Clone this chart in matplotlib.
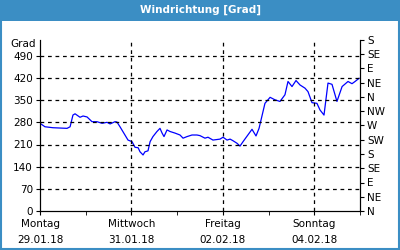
import matplotlib.pyplot as plt
from matplotlib.patches import Rectangle

# Data: hours since 29.01.18 00:00 and wind direction in degrees
hours = [0, 2.6, 6.8, 14.2, 15.8, 17.3, 18.4, 21, 22.6, 24.7, 27.3, 29.9, 32.6, 35.2,
         36.8, 39.4, 40.4, 42, 44.6, 46.2, 48.3, 49.9, 51.5, 52.5, 54.1, 55.1, 56.7,
         57.8, 59.3, 61.4, 63, 64.1, 65.1, 66.7, 68.3, 70.9, 73.5, 75.1, 77.2, 79.8,
         82.4, 84, 86.6, 88.2, 90.8, 94.5, 96.1, 98.2, 99.8, 101.3, 103.4, 105, 106.6,
         111.3, 113.4, 115, 118.1, 120.8, 123.4, 126, 128.6, 130.2, 132.3, 134.4, 136.5,
         139.1, 140.7, 142.8, 145.4, 147, 149.1, 151.2, 153.3, 155.9, 158.6, 161.7,
         163.8, 165.4, 167.5]
grad = [277, 266, 263, 261, 266, 303, 307, 296, 300, 297, 282, 282, 277, 280,
        275, 282, 281, 266, 240, 224, 219, 201, 200, 187, 177, 187, 190,
        219, 235, 251, 261, 246, 235, 256, 251, 246, 240, 230, 235, 240,
        240, 238, 230, 233, 224, 227, 233, 224, 227, 222, 214, 205, 219,
        258, 237, 261, 340, 359, 351, 346, 367, 409, 393, 412, 398,
        388, 377, 342, 340, 319, 303, 404, 400, 346, 393, 409,
        402, 409, 419]

tick_hours = [0, 48, 96, 144]
tick_labels = ['Montag\n29.01.18', 'Mittwoch\n31.01.18', 'Freitag\n02.02.18', 'Sonntag\n04.02.18']
left_ticks = [0, 70, 140, 210, 280, 350, 420, 490]
right_ticks = [0, 45, 90, 135, 180, 225, 270, 315, 360, 405, 450, 495, 540]
right_labels = ['N', 'NE', 'E', 'SE', 'S', 'SW', 'W', 'NW', 'N', 'NE', 'E', 'SE', 'S']

blue = '#3b8ec4'
fs = 7.5

fig = plt.figure(figsize=(4, 2.5), dpi=100)
fig.patch.set_facecolor('white')

# title bar and frame
fig.patches.append(Rectangle((0, 0.918), 1, 0.082, transform=fig.transFigure,
                             facecolor=blue, edgecolor='none', zorder=0))
fig.patches.append(Rectangle((0.002, 0.004), 0.996, 0.99, transform=fig.transFigure,
                             facecolor='none', edgecolor=blue, linewidth=1.5, zorder=0))
fig.text(0.5, 0.959, 'Windrichtung [Grad]', color='white', fontsize=7.5,
         fontweight='bold', ha='center', va='center')

ax = fig.add_axes([0.1, 0.156, 0.8, 0.684])
ax.plot(hours, grad, color='#0000ff', linewidth=0.9)

ax.set_xlim(0, 168)
ax.set_ylim(0, 540)
ax.set_xticks(tick_hours)
ax.set_xticklabels(tick_labels, fontsize=fs, linespacing=1.7)
ax.set_xticks(range(0, 169, 24), minor=True)
ax.set_yticks(left_ticks)
ax.tick_params(axis='y', labelsize=fs, length=3, pad=2)
ax.tick_params(axis='x', which='both', length=3, pad=3)
ax.spines['top'].set_visible(False)

for y in left_ticks[1:]:
    ax.axhline(y, color='black', linestyle=(0, (3, 3)), linewidth=0.9)
for x in tick_hours[1:]:
    ax.axvline(x, color='black', linestyle=(0, (3, 3)), linewidth=0.9)

ax.text(-0.012, 528 / 540, 'Grad', transform=ax.transAxes, ha='right', va='center', fontsize=fs)

ax2 = ax.twinx()
ax2.set_ylim(0, 540)
ax2.set_yticks(right_ticks)
ax2.set_yticklabels(right_labels, fontsize=fs)
ax2.tick_params(axis='y', length=3, pad=2)
ax2.spines['top'].set_visible(False)

plt.savefig('out.png', dpi=100)
